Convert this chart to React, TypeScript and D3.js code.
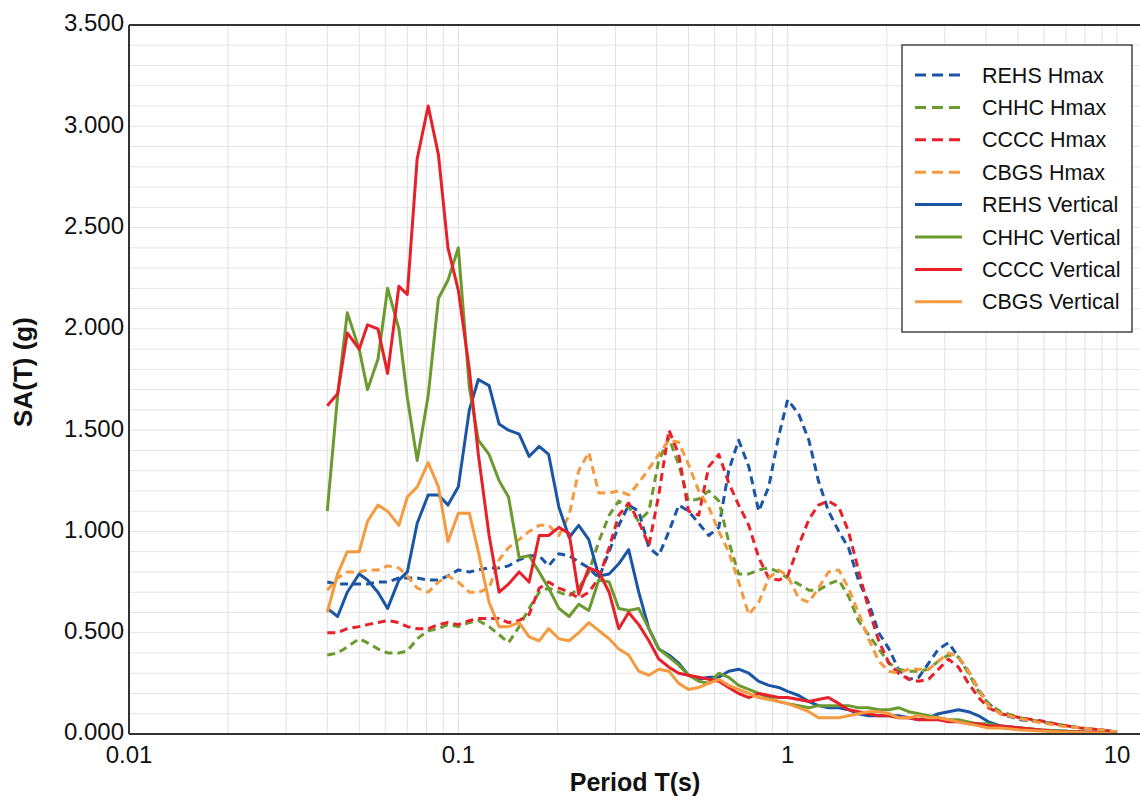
import * as d3 from 'd3';

// Period (s) of every sample, shared by all curves
const PERIODS = [
  0.04, 0.043, 0.046, 0.05, 0.053, 0.057, 0.061, 0.066, 0.07, 0.075,
  0.081, 0.087, 0.093, 0.1, 0.108, 0.115, 0.124, 0.133, 0.142, 0.153,
  0.164, 0.176, 0.188, 0.202, 0.217, 0.232, 0.249, 0.267, 0.287, 0.307,
  0.329, 0.353, 0.379, 0.406, 0.436, 0.467, 0.5, 0.537, 0.576, 0.618,
  0.662, 0.71, 0.762, 0.817, 0.876, 0.939, 1.0, 1.08, 1.16, 1.24,
  1.33, 1.43, 1.53, 1.64, 1.76, 1.89, 2.03, 2.17, 2.33, 2.5,
  2.68, 2.87, 3.08, 3.3, 3.54, 3.8, 4.07, 4.43, 5.09, 5.86,
  6.74, 7.75, 8.91, 10,
];

const REHS_HMAX = [
  0.75, 0.74, 0.74, 0.74, 0.74, 0.75, 0.75, 0.77, 0.77, 0.77,
  0.76, 0.76, 0.78, 0.81, 0.80, 0.81, 0.82, 0.82, 0.83, 0.86,
  0.88, 0.88, 0.83, 0.89, 0.88, 0.85, 0.82, 0.77, 0.90, 1.03,
  1.13, 1.10, 0.92, 0.88, 1.00, 1.13, 1.10, 1.04, 0.98, 1.02,
  1.30, 1.45, 1.32, 1.10, 1.22, 1.47, 1.65, 1.58, 1.45, 1.25,
  1.10, 1.00, 0.92, 0.76, 0.65, 0.50, 0.42, 0.32, 0.27, 0.28,
  0.35, 0.42, 0.45, 0.38, 0.31, 0.22, 0.15, 0.10, 0.07, 0.06,
  0.045, 0.03, 0.02, 0.01,
];

const CHHC_HMAX = [
  0.39, 0.40, 0.43, 0.47, 0.45, 0.42, 0.40, 0.40, 0.41, 0.47,
  0.51, 0.52, 0.54, 0.53, 0.55, 0.56, 0.53, 0.49, 0.45, 0.53,
  0.62, 0.70, 0.72, 0.70, 0.68, 0.72, 0.80, 0.95, 1.08, 1.15,
  1.12, 1.05, 1.10, 1.35, 1.46, 1.33, 1.15, 1.16, 1.20, 1.15,
  0.95, 0.79, 0.79, 0.81, 0.82, 0.80, 0.77, 0.74, 0.71, 0.71,
  0.74, 0.76, 0.68, 0.56, 0.49, 0.42, 0.35, 0.32, 0.31, 0.31,
  0.32, 0.36, 0.39, 0.38, 0.30, 0.21, 0.15, 0.11, 0.08, 0.06,
  0.045, 0.03, 0.02, 0.01,
];

const CCCC_HMAX = [
  0.50, 0.50, 0.52, 0.53, 0.54, 0.55, 0.56, 0.55, 0.53, 0.52,
  0.52, 0.54, 0.55, 0.54, 0.56, 0.57, 0.57, 0.57, 0.55, 0.56,
  0.59, 0.72, 0.75, 0.72, 0.70, 0.67, 0.70, 0.77, 0.92, 1.08,
  1.14, 1.05, 0.93, 1.18, 1.50, 1.38, 1.10, 1.08, 1.32, 1.38,
  1.24, 1.13, 1.03, 0.87, 0.77, 0.76, 0.78, 0.93, 1.06, 1.13,
  1.15, 1.12, 1.00, 0.81, 0.62, 0.46, 0.35, 0.30, 0.27, 0.26,
  0.27, 0.32, 0.37, 0.33, 0.25, 0.18, 0.13, 0.10, 0.08, 0.065,
  0.045, 0.03, 0.02, 0.01,
];

const CBGS_HMAX = [
  0.71, 0.77, 0.80, 0.80, 0.81, 0.81, 0.83, 0.82, 0.78, 0.72,
  0.70, 0.75, 0.78, 0.75, 0.70, 0.70, 0.72, 0.86, 0.92, 0.96,
  1.00, 1.03, 1.03, 0.98, 1.08, 1.30, 1.39, 1.19, 1.19, 1.20,
  1.18, 1.24, 1.31, 1.38, 1.45, 1.44, 1.33, 1.20, 1.12, 1.00,
  0.90, 0.75, 0.59, 0.65, 0.77, 0.81, 0.78, 0.67, 0.65, 0.72,
  0.80, 0.81, 0.72, 0.60, 0.47, 0.36, 0.31, 0.30, 0.32, 0.32,
  0.32, 0.36, 0.40, 0.38, 0.31, 0.22, 0.14, 0.10, 0.075, 0.055,
  0.04, 0.03, 0.02, 0.01,
];

const REHS_VERT = [
  0.62, 0.58, 0.70, 0.79, 0.76, 0.70, 0.62, 0.76, 0.80, 1.04,
  1.18, 1.18, 1.13, 1.22, 1.60, 1.75, 1.72, 1.53, 1.50, 1.48,
  1.37, 1.42, 1.38, 1.12, 0.97, 1.03, 0.96, 0.78, 0.79, 0.84,
  0.91, 0.70, 0.52, 0.42, 0.39, 0.35, 0.29, 0.27, 0.28, 0.28,
  0.31, 0.32, 0.30, 0.26, 0.24, 0.23, 0.21, 0.19, 0.16, 0.14,
  0.13, 0.13, 0.12, 0.10, 0.09, 0.09, 0.09, 0.09, 0.08, 0.07,
  0.08, 0.10, 0.11, 0.12, 0.11, 0.09, 0.06, 0.04, 0.03, 0.02,
  0.015, 0.01, 0.005, 0.0,
];

const CHHC_VERT = [
  1.10, 1.67, 2.08, 1.90, 1.70, 1.85, 2.20, 2.00, 1.66, 1.35,
  1.67, 2.15, 2.24, 2.40, 1.71, 1.45, 1.38, 1.25, 1.17, 0.87,
  0.88, 0.80, 0.72, 0.62, 0.58, 0.64, 0.61, 0.76, 0.75, 0.62,
  0.61, 0.62, 0.52, 0.42, 0.38, 0.34, 0.29, 0.26, 0.25, 0.30,
  0.28, 0.24, 0.22, 0.20, 0.18, 0.16, 0.15, 0.14, 0.13, 0.14,
  0.14, 0.14, 0.14, 0.13, 0.13, 0.12, 0.12, 0.13, 0.11, 0.10,
  0.09, 0.08, 0.07, 0.07, 0.06, 0.05, 0.05, 0.04, 0.03, 0.02,
  0.015, 0.01, 0.005, 0.0,
];

const CCCC_VERT = [
  1.62, 1.68, 1.98, 1.90, 2.02, 2.00, 1.78, 2.21, 2.17, 2.84,
  3.10, 2.86, 2.40, 2.19, 1.80, 1.38, 0.98, 0.70, 0.74, 0.80,
  0.75, 0.98, 0.98, 1.02, 0.99, 0.69, 0.82, 0.80, 0.70, 0.52,
  0.60, 0.54, 0.46, 0.37, 0.33, 0.30, 0.29, 0.28, 0.27, 0.26,
  0.23, 0.20, 0.18, 0.20, 0.19, 0.18, 0.18, 0.17, 0.16, 0.17,
  0.18, 0.15, 0.12, 0.11, 0.10, 0.09, 0.09, 0.08, 0.08, 0.07,
  0.07, 0.07, 0.06, 0.06, 0.05, 0.05, 0.04, 0.04, 0.03, 0.02,
  0.01, 0.01, 0.005, 0.0,
];

const CBGS_VERT = [
  0.60, 0.79, 0.90, 0.90, 1.05, 1.13, 1.10, 1.03, 1.17, 1.22,
  1.34, 1.22, 0.95, 1.09, 1.09, 0.90, 0.65, 0.53, 0.53, 0.55,
  0.48, 0.46, 0.52, 0.47, 0.46, 0.50, 0.55, 0.51, 0.47, 0.42,
  0.39, 0.31, 0.29, 0.32, 0.31, 0.25, 0.22, 0.23, 0.25, 0.27,
  0.24, 0.22, 0.20, 0.18, 0.17, 0.16, 0.15, 0.13, 0.11, 0.08,
  0.08, 0.08, 0.09, 0.10, 0.11, 0.11, 0.10, 0.08, 0.08, 0.09,
  0.08, 0.08, 0.07, 0.06, 0.05, 0.04, 0.03, 0.03, 0.02, 0.015,
  0.01, 0.008, 0.005, 0.0,
];

const X_TICKS = [0.01, 0.1, 1, 10];
const Y_TICKS = [0, 0.5, 1, 1.5, 2, 2.5, 3, 3.5];

const BLUE = '#1b55a5';
const GREEN = '#6b9a2e';
const RED = '#e8202a';
const ORANGE = '#f59a3f';

const SERIES = [
  { name: 'REHS Hmax', values: REHS_HMAX, color: BLUE, dashed: true },
  { name: 'CHHC Hmax', values: CHHC_HMAX, color: GREEN, dashed: true },
  { name: 'CCCC Hmax', values: CCCC_HMAX, color: RED, dashed: true },
  { name: 'CBGS Hmax', values: CBGS_HMAX, color: ORANGE, dashed: true },
  { name: 'REHS Vertical', values: REHS_VERT, color: BLUE, dashed: false },
  { name: 'CHHC Vertical', values: CHHC_VERT, color: GREEN, dashed: false },
  { name: 'CCCC Vertical', values: CCCC_VERT, color: RED, dashed: false },
  { name: 'CBGS Vertical', values: CBGS_VERT, color: ORANGE, dashed: false },
];

const W = 1140;
const H = 800;
const LEFT = 129;
const RIGHT = 1160;
const TOP = 25;
const BOTTOM = 734;
const FONT = '"Liberation Sans", Arial, sans-serif';

export default function App() {
  const x = d3.scaleLog().domain([0.01, 10]).range([LEFT, 1117]);
  const y = d3.scaleLinear().domain([0, 3.5]).range([BOTTOM, TOP]);

  const line = d3
    .line<number>()
    .x((_, i) => x(PERIODS[i]))
    .y((d) => y(d));

  // minor log grid
  const vGrid: number[] = [];
  [0.01, 0.1, 1, 10].forEach((dec) => {
    for (let k = 1; k <= 9; k++) vGrid.push(dec * k);
  });
  const hGrid = d3.range(1, 35).map((i) => i / 10);

  const legendX = 902;
  const legendY = 45;
  const rowH = 32.4;

  return (
    <div style={{ position: 'absolute', left: 0, top: 0 }}>
      <svg width={W} height={H} style={{ display: 'block', background: '#fff' }}>
        <defs>
          <clipPath id="plot">
            <rect x={LEFT} y={TOP} width={RIGHT - LEFT} height={BOTTOM - TOP} />
          </clipPath>
        </defs>

        <g clipPath="url(#plot)">
          {hGrid.map((v) => (
            <line key={'h' + v} x1={LEFT} x2={RIGHT} y1={y(v)} y2={y(v)} stroke="#e4e4e4" strokeWidth={1} />
          ))}
          {vGrid.map((v) => (
            <line key={'v' + v} x1={x(v)} x2={x(v)} y1={TOP} y2={BOTTOM} stroke="#e1e1e1" strokeWidth={1} />
          ))}
        </g>

        <g clipPath="url(#plot)">
          {SERIES.map((s) => (
            <path
              key={s.name}
              d={line(s.values) || ''}
              fill="none"
              stroke={s.color}
              strokeWidth={3}
              strokeDasharray={s.dashed ? '8,5' : undefined}
              strokeLinejoin="round"
            />
          ))}
        </g>

        {/* frame */}
        <line x1={LEFT} x2={RIGHT} y1={TOP} y2={TOP} stroke="#333" strokeWidth={2} />
        <line x1={LEFT} x2={LEFT} y1={TOP} y2={BOTTOM} stroke="#333" strokeWidth={2} />
        <line x1={LEFT} x2={RIGHT} y1={BOTTOM} y2={BOTTOM} stroke="#333" strokeWidth={2} />

        {Y_TICKS.map((v) => (
          <text
            key={'yt' + v}
            x={124}
            y={y(v) - 2}
            dy="0.35em"
            textAnchor="end"
            fontFamily={FONT}
            fontSize={24}
            fill="#111"
          >
            {d3.format('.3f')(v)}
          </text>
        ))}
        {X_TICKS.map((v) => (
          <text
            key={'xt' + v}
            x={x(v)}
            y={763}
            textAnchor="middle"
            fontFamily={FONT}
            fontSize={24}
            fill="#111"
          >
            {String(v)}
          </text>
        ))}

        <text x={635} y={791} textAnchor="middle" fontFamily={FONT} fontSize={25} fontWeight="bold" fill="#111">
          Period T(s)
        </text>
        <text
          transform={`translate(32,372) rotate(-90)`}
          textAnchor="middle"
          fontFamily={FONT}
          fontSize={26}
          fontWeight="bold"
          fill="#111"
        >
          SA(T) (g)
        </text>

        {/* legend */}
        <rect x={legendX} y={legendY} width={230} height={287} fill="#fff" stroke="#444" strokeWidth={1.5} />
        {SERIES.map((s, i) => {
          const cy = legendY + 30 + i * rowH;
          return (
            <g key={'lg' + s.name}>
              <line
                x1={915}
                x2={962}
                y1={cy}
                y2={cy}
                stroke={s.color}
                strokeWidth={3}
                strokeDasharray={s.dashed ? '11,6' : undefined}
              />
              <text x={982} y={cy} dy="0.35em" fontFamily={FONT} fontSize={21.5} fill="#111">
                {s.name}
              </text>
            </g>
          );
        })}
      </svg>
    </div>
  );
}
